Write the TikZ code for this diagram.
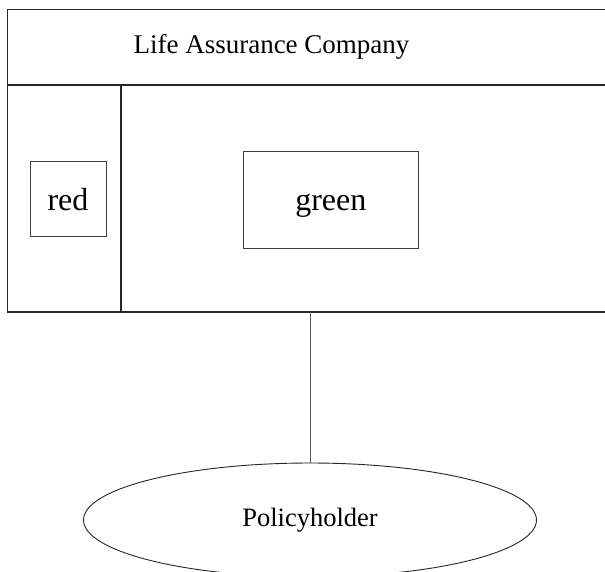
\documentclass[tikz,border=0pt]{standalone}
\usepackage{fontspec}
\setmainfont{Liberation Serif}
\usetikzlibrary{shapes.geometric}
\begin{document}
\begin{tikzpicture}[x=1pt,y=-1pt,
  frame/.style={draw=black!85,line width=1.1pt},
  innerbox/.style={draw=black!75,line width=0.9pt,rectangle,inner sep=0pt,
    text height=22pt,text depth=0pt,font=\fontsize{32}{36}\selectfont},
  caption/.style={inner sep=0pt,font=\fontsize{27}{30}\selectfont},
  party/.style={draw=black!85,line width=0.9pt,ellipse,inner sep=0pt,
    minimum width=453pt,minimum height=114pt,font=\fontsize{26.5}{30}\selectfont},
  link/.style={draw=black!65,line width=1pt}]
\useasboundingbox (0,0) rectangle (605,571);
% company frame: header band, side panel and main panel
\draw[frame] (620,9.5) -- (7.5,9.5) -- (7.5,312) -- (620,312);
\draw[frame] (7.5,85) -- (620,85);
\draw[frame] (121,85) -- (121,312);
\node[caption] (company) at (271.5,47) {Life Assurance Company};
% boxes inside the panels
\node[innerbox,minimum width=76pt,minimum height=75pt] (red) at (68,199) {red};
\node[innerbox,minimum width=175pt,minimum height=97pt] (green) at (330.8,199.7) {green};
% policyholder and its link to the company
\coordinate (base) at (310,312);
\node[party] (holder) at (310,520) {Policyholder};
\draw[link] (base) -- (holder.north);
\end{tikzpicture}
\end{document}
